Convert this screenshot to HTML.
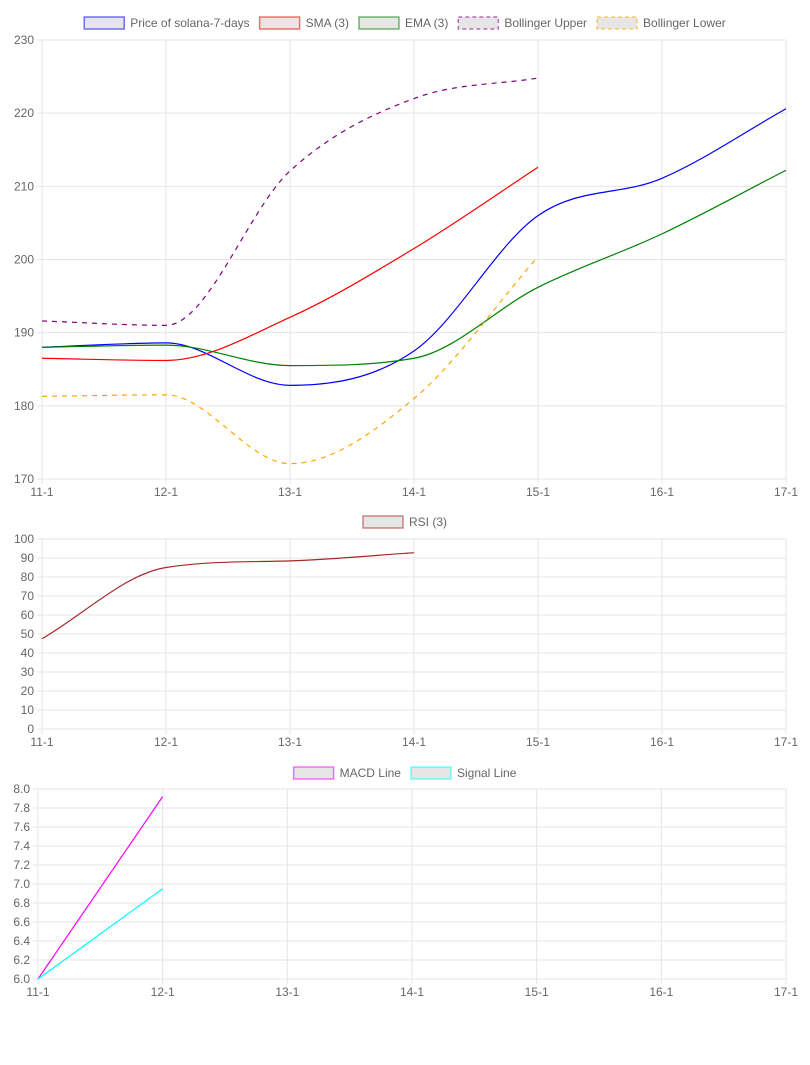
<!DOCTYPE html>
<html><head><meta charset="utf-8"><style>
body{margin:0;background:#fff;width:810px;height:1060px;overflow:hidden;font-family:"Liberation Sans",Arial,sans-serif}
svg text{font-family:"Liberation Sans",Arial,sans-serif;font-size:12px;fill:#666}
</style></head><body>
<svg id="s" width="810" height="1060"></svg>
<script>
const labels=["11-1","12-1","13-1","14-1","15-1","16-1","17-1"];
const priceVals=[188.0,188.6,182.8,187.5,206.0,211.1,220.6];
const smaVals=[186.5,186.2,192.1,201.5,212.6];
const emaVals=[188.0,188.3,185.5,186.5,196.2,203.5,212.2];
const upperVals=[191.6,191.0,212.1,222.0,224.8];
const lowerVals=[181.3,181.5,172.1,181.0,200.4];
const rsiVals=[47.5,85.0,88.5,92.8];
const macdVals=[6.0,7.92];
const signalVals=[6.0,6.95];
const mainTicks=[170,180,190,200,210,220,230];
const rsiTicks=[0,10,20,30,40,50,60,70,80,90,100];
const macdTicks=[6.0,6.2,6.4,6.6,6.8,7.0,7.2,7.4,7.6,7.8,8.0];

const S=document.getElementById('s');const NS='http://www.w3.org/2000/svg';
function mk(t,a,p){const e=document.createElementNS(NS,t);for(const k in a)e.setAttribute(k,a[k]);(p||S).appendChild(e);return e;}
function path(pts){const n=pts.length;let d='M'+pts[0][0]+','+pts[0][1];if(n<3){for(let i=1;i<n;i++)d+=' L'+pts[i][0]+','+pts[i][1];return d;}
 const del=[],m=[];for(let i=0;i<n-1;i++)del.push((pts[i+1][1]-pts[i][1])/(pts[i+1][0]-pts[i][0]));
 for(let i=0;i<n;i++){if(i==0)m.push(del[0]);else if(i==n-1)m.push(del[n-2]);else if(Math.sign(del[i-1])!==Math.sign(del[i]))m.push(0);else m.push((del[i-1]+del[i])/2);}
 for(let i=0;i<n-1;i++){if(del[i]===0){m[i]=m[i+1]=0;continue;}const a=m[i]/del[i],b=m[i+1]/del[i],s=a*a+b*b;if(s>9){const t=3/Math.sqrt(s);m[i]=t*a*del[i];m[i+1]=t*b*del[i];}}
 for(let i=0;i<n-1;i++){const dx=(pts[i+1][0]-pts[i][0])/3;d+=' C'+(pts[i][0]+dx)+','+(pts[i][1]+m[i]*dx)+' '+(pts[i+1][0]-dx)+','+(pts[i+1][1]-m[i+1]*dx)+' '+pts[i+1][0]+','+pts[i+1][1];}
 return d;}
function chart(o){
 const g=mk('g',{});
 const X=i=>o.x0+(o.x1-o.x0)*i/(labels.length-1);
 const Y=v=>o.yb-(o.yb-o.yt)*(v-o.min)/(o.max-o.min);
 o.ticks.forEach(v=>{const y=Y(v);mk('line',{x1:o.x0-5,x2:o.x1,y1:y,y2:y,stroke:'#e5e5e5'},g);
  const t=mk('text',{x:o.x0-8,y:y+4,'text-anchor':'end'},g);t.textContent=o.fmt?v.toFixed(1):v;});
 labels.forEach((l,i)=>{const x=X(i);mk('line',{x1:x,x2:x,y1:o.yt,y2:o.yb+5,stroke:'#e5e5e5'},g);
  const t=mk('text',{x:x,y:o.yb+17,'text-anchor':'middle'},g);t.textContent=l;});
 o.series.forEach(s=>{const pts=s.v.map((v,i)=>[X(i),Y(v)]);const p=mk('path',{d:path(pts),fill:'none',stroke:s.c,'stroke-width':1.2},g);if(s.dash)p.setAttribute('stroke-dasharray','5,5');});
 const lg=mk('g',{},g);
 const items=o.series.map(s=>{const it=mk('g',{},lg);
  const r=mk('rect',{y:o.ly-6,width:40,height:12,fill:'#e6e6e6',stroke:s.c,'stroke-width':1.5,'stroke-opacity':0.55},it);if(s.dash)r.setAttribute('stroke-dasharray','4,3');
  const t=mk('text',{y:o.ly+4},it);t.textContent=s.label;return{r,t,w:46+t.getComputedTextLength()};});
 const total=items.reduce((a,b)=>a+b.w,0)+10*(items.length-1);let x=405-total/2;
 items.forEach(it=>{it.r.setAttribute('x',x);it.t.setAttribute('x',x+46);x+=it.w+10;});
}
chart({name:'price-chart',x0:42,x1:786,yt:40,yb:479,min:170,max:230,ticks:mainTicks,ly:23,series:[
 {id:'price',v:priceVals,c:'#0000ff',label:'Price of solana-7-days'},
 {id:'sma',v:smaVals,c:'#ff0000',label:'SMA (3)'},
 {id:'ema',v:emaVals,c:'#008000',label:'EMA (3)'},
 {id:'bollinger-upper',v:upperVals,c:'#800080',label:'Bollinger Upper',dash:1},
 {id:'bollinger-lower',v:lowerVals,c:'#ffa500',label:'Bollinger Lower',dash:1}]});
chart({name:'rsi-chart',x0:42,x1:786,yt:539,yb:729,min:0,max:100,ticks:rsiTicks,ly:522,series:[
 {id:'rsi',v:rsiVals,c:'#a52a2a',label:'RSI (3)'}]});
chart({name:'macd-chart',x0:38,x1:786,yt:789,yb:979,min:6,max:8,ticks:macdTicks,fmt:1,ly:773,series:[
 {id:'macd',v:macdVals,c:'#ff00ff',label:'MACD Line'},
 {id:'signal',v:signalVals,c:'#00ffff',label:'Signal Line'}]});
</script>
</body></html>
